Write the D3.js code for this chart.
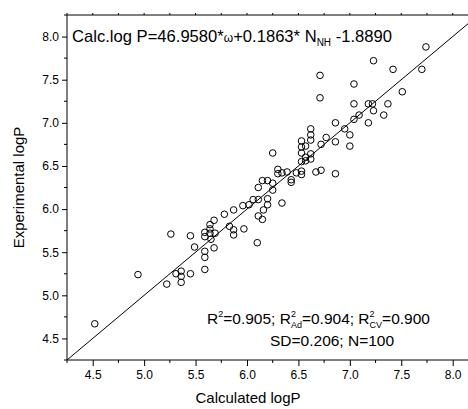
<!DOCTYPE html>
<html><head><meta charset="utf-8">
<script src="https://cdn.jsdelivr.net/npm/d3@7"></script>
<style>body{margin:0;background:#fff}svg{display:block;font-family:"Liberation Sans",Arial,sans-serif}</style>
</head><body><svg id="c" width="468" height="409"></svg>
<script>
const calculated = [4.52,4.94,5.22,5.31,5.36,5.36,5.36,5.45,5.59,5.59,5.59,5.49,5.68,5.26,5.45,5.59,5.64,5.69,5.59,5.65,5.64,5.64,5.68,5.78,5.83,5.87,5.87,5.97,5.87,5.96,6.02,6.06,6.11,6.20,6.20,6.16,6.11,6.15,6.10,6.11,6.15,6.20,6.25,6.25,6.34,6.30,6.30,6.34,6.39,6.43,6.43,6.48,6.53,6.53,6.67,6.72,6.86,6.25,6.53,6.57,6.62,6.57,6.62,6.53,6.53,6.57,6.53,6.62,6.62,6.62,6.72,6.77,6.86,6.86,6.95,7.00,7.00,7.04,7.18,7.09,7.04,7.18,7.22,7.37,7.23,7.33,7.51,7.04,6.71,6.71,7.23,7.42,7.70,7.74];
const experimental = [4.67,5.24,5.13,5.25,5.28,5.22,5.15,5.25,5.30,5.44,5.51,5.56,5.55,5.71,5.69,5.73,5.72,5.72,5.68,5.65,5.77,5.82,5.87,5.94,5.80,5.76,5.70,5.77,5.99,6.04,6.05,6.11,6.11,6.12,6.05,5.99,5.92,5.88,5.61,6.25,6.33,6.33,6.30,6.22,6.07,6.46,6.41,6.42,6.43,6.34,6.31,6.42,6.44,6.40,6.43,6.45,6.41,6.65,6.55,6.56,6.58,6.60,6.64,6.65,6.72,6.73,6.79,6.80,6.86,6.93,6.75,6.83,6.78,7.00,6.93,6.86,6.73,7.04,7.00,7.09,7.22,7.22,7.22,7.22,7.14,7.09,7.36,7.45,7.55,7.29,7.72,7.62,7.62,7.88];
const tickValues = [4.5,5.0,5.5,6.0,6.5,7.0,7.5,8.0];
const minorValues = [4.25,4.75,5.25,5.75,6.25,6.75,7.25,7.75,8.25];
const domain = [4.25,8.25];
const xTitle = "Calculated logP";
const yTitle = "Experimental logP";

const svg = d3.select("#c");
const x = d3.scaleLinear().domain(domain).range([67, 478.4]);
const y = d3.scaleLinear().domain(domain).range([360, 15]);
const fmt = d3.format(".1f");

// bottom axis
const gb = svg.append("g").attr("transform","translate(0,360)");
gb.call(d3.axisBottom(x).tickValues(tickValues).tickFormat(fmt).tickSize(6).tickPadding(4))
  .call(g=>g.select(".domain").remove());
gb.selectAll(".tick line").attr("stroke","#000");
gb.selectAll(".tick text").attr("font-size",12).attr("font-family","Liberation Sans, Arial, sans-serif").attr("fill","#000");
gb.call(g=>g.selectAll(".minor").data(minorValues).join("line").attr("class","minor")
  .attr("x1",d=>x(d)).attr("x2",d=>x(d)).attr("y1",0).attr("y2",3).attr("stroke","#000"));

// left axis
const gl = svg.append("g").attr("transform","translate(67,0)");
gl.call(d3.axisLeft(y).tickValues(tickValues).tickFormat(fmt).tickSize(5).tickPadding(3))
  .call(g=>g.select(".domain").remove());
gl.selectAll(".tick line").attr("stroke","#000");
gl.selectAll(".tick text").attr("font-size",12).attr("font-family","Liberation Sans, Arial, sans-serif").attr("fill","#000");
gl.selectAll(".minor").data(minorValues).join("line").attr("class","minor")
  .attr("y1",d=>y(d)).attr("y2",d=>y(d)).attr("x1",0).attr("x2",-3).attr("stroke","#000");

// top axis ticks
const gt = svg.append("g").attr("transform","translate(0,15)");
gt.selectAll("line.t").data(tickValues.concat(minorValues)).join("line").attr("class","t")
  .attr("x1",d=>x(d)).attr("x2",d=>x(d)).attr("y1",0).attr("y2",-2).attr("stroke","#000");

// frame
svg.append("line").attr("x1",67).attr("x2",478).attr("y1",360).attr("y2",360).attr("stroke","#000");
svg.append("line").attr("x1",67).attr("x2",478).attr("y1",15).attr("y2",15).attr("stroke","#000");
svg.append("line").attr("x1",67).attr("x2",67).attr("y1",15).attr("y2",360).attr("stroke","#000");

// y = x line
svg.append("line").attr("x1",x(domain[0])).attr("y1",y(domain[0])).attr("x2",x(domain[1])).attr("y2",y(domain[1]))
  .attr("stroke","#000").attr("stroke-width",1);

// points
svg.append("g").selectAll("circle").data(calculated.map((c,i)=>[c,experimental[i]])).join("circle")
  .attr("cx",d=>x(d[0])).attr("cy",d=>y(d[1])).attr("r",3.3)
  .attr("fill","none").attr("stroke","#000").attr("stroke-width",1);

// titles
svg.append("text").attr("x",248).attr("y",403).attr("text-anchor","middle").attr("font-size",15).text(xTitle);
svg.append("text").attr("transform","translate(24,187.5) rotate(-90)").attr("text-anchor","middle").attr("font-size",15).text(yTitle);

// equation
const eq = svg.append("text").attr("x",72).attr("y",42).attr("font-size",16.6);
eq.append("tspan").text("Calc.log P=46.9580*");
eq.append("tspan").attr("font-size",12).text("ω");
eq.append("tspan").text("+0.1863* N");
eq.append("tspan").attr("font-size",10).attr("dy",4).text("NH");
eq.append("tspan").attr("dy",-4).text(" -1.8890");

// stats
const s1 = svg.append("text").attr("x",207).attr("y",324).attr("font-size",15.5);
s1.append("tspan").text("R");
s1.append("tspan").attr("font-size",9).attr("dy",-7).text("2");
s1.append("tspan").attr("dy",7).text("=0.905; R");
s1.append("tspan").attr("font-size",9).attr("dy",-7).text("2");
s1.append("tspan").attr("font-size",9).attr("dx",-5).attr("dy",11).text("Ad");
s1.append("tspan").attr("dy",-4).text("=0.904; R");
s1.append("tspan").attr("font-size",9).attr("dy",-7).text("2");
s1.append("tspan").attr("font-size",9).attr("dx",-5).attr("dy",11).text("CV");
s1.append("tspan").attr("dy",-4).text("=0.900");
svg.append("text").attr("x",270).attr("y",345.5).attr("font-size",15.5).text("SD=0.206; N=100");
</script></body></html>
